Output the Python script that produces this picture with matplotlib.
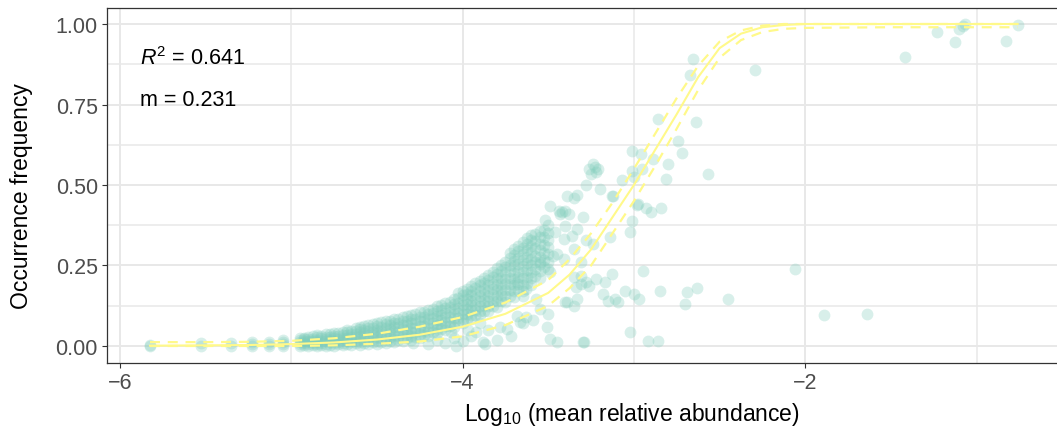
import matplotlib
matplotlib.use('Agg')
import matplotlib.pyplot as plt
from matplotlib.ticker import MultipleLocator
import numpy as np

plt.rcParams['font.family'] = ['Liberation Sans', 'DejaVu Sans']
plt.rcParams['mathtext.fontset'] = 'custom'
plt.rcParams['mathtext.rm'] = 'Liberation Sans'
plt.rcParams['mathtext.it'] = 'Liberation Sans:italic'

# ---- neutral model fit ----
fit_x = [-5.825, -5.5, -5.25, -5.0, -4.75, -4.5, -4.25, -4.0, -3.75, -3.5, -3.375,
         -3.25, -3.125, -3.0, -2.875, -2.75, -2.625, -2.5, -2.375, -2.25, -2.125,
         -2.0, -1.5, -1.0, -0.76]
fit_mid = [0.001, 0.002, 0.003, 0.006, 0.011, 0.02, 0.035, 0.06, 0.10, 0.165, 0.222,
           0.30, 0.40, 0.50, 0.61, 0.72, 0.835, 0.925, 0.97, 0.99, 0.997,
           1.0, 1.0, 1.0, 1.0]
fit_upr = [0.012, 0.012, 0.013, 0.016, 0.024, 0.038, 0.06, 0.09, 0.135, 0.205, 0.27,
           0.35, 0.445, 0.55, 0.66, 0.77, 0.87, 0.945, 0.98, 0.995, 1.0,
           1.0, 1.0, 1.0, 1.0]
fit_lwr = [0.0, 0.0, 0.0, 0.0, 0.002, 0.007, 0.014, 0.03, 0.065, 0.125, 0.18,
           0.25, 0.35, 0.45, 0.56, 0.675, 0.795, 0.895, 0.95, 0.975, 0.985,
           0.988, 0.99, 0.99, 0.99]

# ---- low abundance taxa, one column per abundance level ----
col_x = [-5.825, -5.53, -5.35, -5.23, -5.13, -5.05,
         -4.95, -4.90, -4.85, -4.80, -4.75, -4.70, -4.65, -4.60, -4.55, -4.50,
         -4.45, -4.40, -4.35, -4.30, -4.25, -4.20, -4.15, -4.10, -4.05, -4.00,
         -3.95, -3.90, -3.85, -3.80, -3.75, -3.70, -3.65, -3.60, -3.55, -3.50]
col_y = [
    [0.0, 0.004],
    [0.0, 0.008],
    [0.0, 0.008],
    [0.0, 0.006, 0.012],
    [0.0, 0.006, 0.012],
    [0.0, 0.006, 0.012, 0.018],
    [0.0, 0.006, 0.012, 0.018, 0.024],
    [0.0, 0.005, 0.011, 0.017, 0.023, 0.029],
    [0.0, 0.006, 0.013, 0.020, 0.027, 0.033],
    [0.0, 0.007, 0.014, 0.021, 0.028, 0.036],
    [0.001, 0.008, 0.016, 0.024, 0.032, 0.040],
    [0.002, 0.010, 0.018, 0.026, 0.035, 0.044],
    [0.003, 0.011, 0.020, 0.029, 0.038, 0.048],
    [0.004, 0.013, 0.022, 0.032, 0.042, 0.053, 0.060],
    [0.005, 0.015, 0.025, 0.035, 0.046, 0.057, 0.066],
    [0.007, 0.017, 0.028, 0.039, 0.050, 0.062, 0.072],
    [0.009, 0.020, 0.031, 0.043, 0.055, 0.067, 0.078],
    [0.012, 0.023, 0.035, 0.047, 0.060, 0.072, 0.085],
    [0.015, 0.027, 0.040, 0.052, 0.065, 0.078, 0.091],
    [0.019, 0.031, 0.044, 0.057, 0.070, 0.084, 0.097],
    [0.024, 0.036, 0.049, 0.063, 0.077, 0.091, 0.105],
    [0.030, 0.043, 0.056, 0.070, 0.084, 0.098, 0.113],
    [0.040, 0.052, 0.066, 0.080, 0.094, 0.109, 0.123],
    [0.050, 0.062, 0.075, 0.089, 0.104, 0.119, 0.134],
    [0.060, 0.072, 0.086, 0.100, 0.115, 0.130, 0.146],
    [0.072, 0.084, 0.098, 0.112, 0.127, 0.142, 0.158, 0.170],
    [0.084, 0.097, 0.111, 0.126, 0.141, 0.157, 0.172, 0.186],
    [0.096, 0.110, 0.125, 0.140, 0.156, 0.172, 0.188, 0.203],
    [0.108, 0.124, 0.140, 0.156, 0.172, 0.189, 0.205, 0.221],
    [0.122, 0.139, 0.156, 0.173, 0.190, 0.207, 0.224, 0.241],
    [0.137, 0.155, 0.173, 0.191, 0.209, 0.227, 0.244, 0.261],
    [0.152, 0.171, 0.190, 0.209, 0.228, 0.247, 0.265, 0.282, 0.300],
    [0.170, 0.190, 0.210, 0.229, 0.249, 0.268, 0.287, 0.305, 0.322],
    [0.190, 0.210, 0.231, 0.251, 0.271, 0.291, 0.311, 0.330, 0.345],
    [0.212, 0.234, 0.255, 0.276, 0.297, 0.318, 0.338, 0.358],
    [0.240, 0.262, 0.285, 0.308, 0.330, 0.352, 0.375],
]

# second set of abundance levels, lying between the ones above
col2_x = [-4.925, -4.875, -4.825, -4.775, -4.725, -4.675, -4.625, -4.575, -4.525,
          -4.475, -4.425, -4.375, -4.325, -4.275, -4.225, -4.175, -4.125, -4.075,
          -4.025, -3.975, -3.925, -3.875, -3.825, -3.775, -3.725, -3.675, -3.625,
          -3.575, -3.525]
col2_y = [
    [0.003, 0.009, 0.015, 0.021, 0.026],
    [0.003, 0.009, 0.016, 0.023, 0.030],
    [0.003, 0.010, 0.017, 0.024, 0.031],
    [0.004, 0.012, 0.020, 0.028, 0.036],
    [0.005, 0.013, 0.022, 0.030, 0.040],
    [0.006, 0.014, 0.024, 0.033, 0.043, 0.050],
    [0.008, 0.017, 0.027, 0.037, 0.047, 0.056],
    [0.009, 0.019, 0.030, 0.040, 0.051, 0.062],
    [0.011, 0.022, 0.033, 0.044, 0.056, 0.068],
    [0.013, 0.024, 0.036, 0.048, 0.060, 0.073],
    [0.016, 0.028, 0.040, 0.053, 0.066, 0.079],
    [0.020, 0.032, 0.045, 0.058, 0.071, 0.085],
    [0.024, 0.037, 0.050, 0.064, 0.077, 0.092],
    [0.029, 0.042, 0.056, 0.070, 0.084, 0.099],
    [0.035, 0.048, 0.062, 0.077, 0.091, 0.106],
    [0.043, 0.056, 0.071, 0.086, 0.101, 0.116],
    [0.052, 0.066, 0.080, 0.095, 0.111, 0.127],
    [0.062, 0.076, 0.091, 0.106, 0.122, 0.138],
    [0.073, 0.087, 0.102, 0.118, 0.134, 0.150, 0.164],
    [0.085, 0.099, 0.114, 0.130, 0.146, 0.162, 0.178],
    [0.097, 0.112, 0.128, 0.145, 0.162, 0.179, 0.195],
    [0.110, 0.126, 0.143, 0.160, 0.178, 0.196, 0.212],
    [0.124, 0.141, 0.158, 0.176, 0.194, 0.213, 0.231],
    [0.140, 0.157, 0.175, 0.193, 0.212, 0.232, 0.251],
    [0.156, 0.174, 0.193, 0.212, 0.232, 0.252, 0.272, 0.290],
    [0.175, 0.194, 0.214, 0.234, 0.254, 0.274, 0.294, 0.312],
    [0.195, 0.215, 0.236, 0.257, 0.277, 0.298, 0.318, 0.335],
    [0.218, 0.239, 0.260, 0.281, 0.303, 0.325, 0.348],
    [0.245, 0.268, 0.290, 0.313, 0.337, 0.360],
]

# ---- scattered taxa ----
pts_x = [-2.653, -2.67, -2.295, -1.42, -1.232, -1.125, -1.10, -1.08, -1.07, -0.828, -0.756,
         -2.858, -2.64, -2.74, -2.72, -2.80, -2.81, -2.568, -3.01, -2.96, -2.89,
         -3.01, -3.0, -2.95, -3.07, -3.13,
         -3.26, -3.23, -3.25, -3.22, -3.24, -3.21,
         -3.28, -3.20, -3.33, -3.35, -3.39, -3.12,
         -3.44, -3.42, -3.40, -3.38, -3.43, -3.30, -3.52, -3.40, -3.33, -3.49,
         -2.974, -2.93, -2.90, -2.84, -2.98,
         -3.01, -3.02, -3.14, -3.28, -3.24, -3.35, -3.47,
         -3.46, -3.41, -3.36, -3.41, -3.31, -3.45, -3.55, -3.49,
         -2.945, -3.13, -3.17, -3.26, -3.31, -3.28, -3.31, -3.22, -3.34, -3.35,
         -3.05, -3.0, -2.97, -3.18, -3.15, -3.11, -3.09,
         -2.85, -2.69, -2.63, -2.70, -2.45,
         -3.39, -3.35, -3.33, -3.40,
         -3.645, -3.57, -3.55, -3.68, -3.665, -3.74, -3.72, -3.51, -3.49, -3.45,
         -3.30, -3.88, -3.92, -4.07,
         -3.68, -3.63,
         -3.02, -2.92, -2.86, -3.29,
         -3.59, -3.50, -3.65, -3.63,
         -3.87, -4.04,
         -2.06, -1.89, -1.64,
         -4.29, -4.20, -4.15, -4.10, -4.05, -4.00, -3.95, -3.80, -3.78, -3.90, -3.85, -3.97]
pts_y = [0.891, 0.842, 0.858, 0.897, 0.974, 0.943, 0.985, 0.995, 1.0, 0.948, 0.997,
         0.705, 0.697, 0.638, 0.60, 0.565, 0.519, 0.535, 0.607, 0.596, 0.58,
         0.544, 0.524, 0.55, 0.515, 0.467,
         0.55, 0.555, 0.535, 0.54, 0.565, 0.55,
         0.50, 0.488, 0.47, 0.46, 0.467, 0.467,
         0.42, 0.415, 0.42, 0.41, 0.41, 0.40, 0.39, 0.374, 0.363, 0.435,
         0.441, 0.43, 0.415, 0.43, 0.438,
         0.389, 0.355, 0.338, 0.33, 0.317, 0.30, 0.28,
         0.354, 0.332, 0.343, 0.27, 0.26, 0.286, 0.26, 0.229,
         0.232, 0.224, 0.199, 0.187, 0.193, 0.198, 0.218, 0.208, 0.182, 0.213,
         0.17, 0.16, 0.146, 0.16, 0.14, 0.145, 0.137,
         0.172, 0.169, 0.18, 0.13, 0.146,
         0.137, 0.125, 0.146, 0.136,
         0.156, 0.146, 0.115, 0.094, 0.074, 0.053, 0.032, 0.058, 0.022, 0.011,
         0.011, 0.011, 0.043, 0.043,
         0.198, 0.177,
         0.044, 0.017, 0.014, 0.011,
         0.08, 0.10, 0.07, 0.09,
         0.006, 0.001,
         0.239, 0.097, 0.10,
         0.01, 0.005, 0.02, 0.01, 0.025, 0.015, 0.03, 0.02, 0.06, 0.07, 0.05, 0.05]

r2_text = '0.641'
m_text = '0.231'

# flatten the columns
sx = []
sy = []
for xs, yss in ((col_x, col_y), (col2_x, col2_y)):
    for xv, ys in zip(xs, yss):
        for yv in ys:
            sx.append(xv)
            sy.append(yv)
sx = sx + pts_x
sy = sy + pts_y

fig = plt.figure(figsize=(10.57, 4.39), dpi=100)
W, H = 1057, 439
ax = fig.add_axes([107 / W, 1 - 364 / H, (1062 - 107) / W, (364 - 9) / H])

ax.scatter(sx, sy, s=72, color='#7FCDBB', alpha=0.3, linewidths=0, zorder=2)

line_col = '#FFF98A'
ax.plot(fit_x, fit_mid, color=line_col, lw=1.5, zorder=3)
ax.plot(fit_x, fit_upr, color=line_col, lw=1.6, dashes=(4.5, 3.5), zorder=3)
ax.plot(fit_x, fit_lwr, color=line_col, lw=1.6, dashes=(4.5, 3.5), zorder=3)

ax.set_xlim(-6.0759, -0.5009)
ax.set_ylim(-0.0528, 1.0497)
ax.xaxis.set_major_locator(MultipleLocator(2))
ax.xaxis.set_minor_locator(MultipleLocator(1))
ax.yaxis.set_major_locator(MultipleLocator(0.25))
ax.yaxis.set_minor_locator(MultipleLocator(0.125))
ax.yaxis.set_major_formatter(matplotlib.ticker.FormatStrFormatter('%.2f'))
ax.xaxis.set_major_formatter(matplotlib.ticker.FuncFormatter(lambda v, p: '%d' % v if v >= 0 else '\u2212%d' % -v))

ax.grid(which='major', color='#E8E8E8', lw=1.4, zorder=0)
ax.grid(which='minor', color='#E8E8E8', lw=1.1, zorder=0)
ax.set_axisbelow(True)

ax.tick_params(which='major', direction='out', length=3.6, width=0.8, color='#333333',
               labelsize=15.5, labelcolor='#4D4D4D', pad=3)
ax.tick_params(which='minor', length=0)
for s in ax.spines.values():
    s.set_color('#333333')
    s.set_linewidth(0.9)

ax.set_xlabel('Log$_{10}$ (mean relative abundance)', fontsize=16.5, color='black', labelpad=4)
ax.set_ylabel('Occurrence frequency', fontsize=16.5, color='black', labelpad=8)
ax.xaxis.set_label_coords((632 - 107) / (1062 - 107), -0.105)
ax.yaxis.set_label_coords(-0.077, 0.472)

ax.text(-5.883, 0.876, '$\\it{R}^{2}$ = ' + r2_text, fontsize=15.5, va='baseline', ha='left')
ax.text(-5.883, 0.748, 'm = ' + m_text, fontsize=15.5, va='baseline', ha='left')

fig.savefig('out.png', dpi=100)
